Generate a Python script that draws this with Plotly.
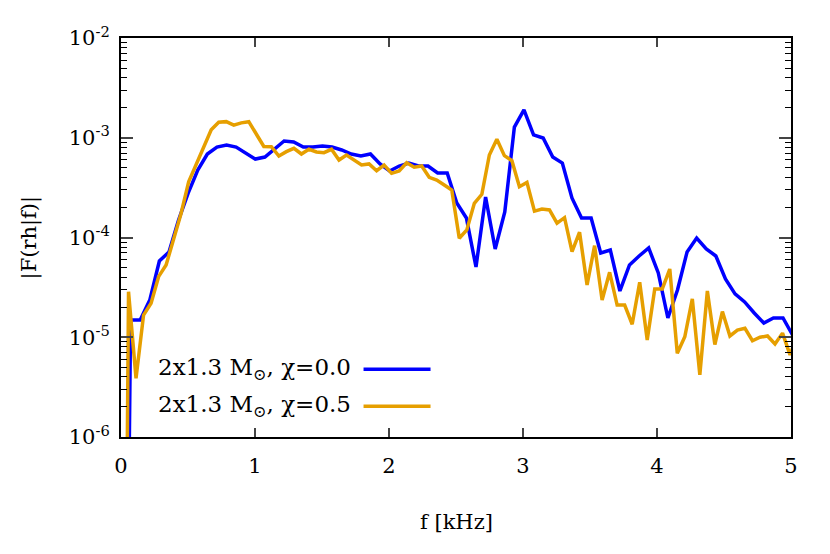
import numpy as np
import plotly.graph_objects as go

# frequency spacing of each series (kHz)
DF_CHI00 = 0.0716
DF_CHI05 = 0.0561

# |F(rh|f)| values, chi = 0.0 (blue)
amp_chi00 = [1e-14, 1.49e-5, 1.49e-5, 2.36e-5, 5.81e-5, 7.16e-5, 1.50e-4, 2.79e-4, 4.75e-4, 6.87e-4,
             8.07e-4, 8.46e-4, 8.07e-4, 7.03e-4, 6.12e-4, 6.41e-4, 7.71e-4, 9.27e-4, 9.06e-4, 8.07e-4,
             8.07e-4, 8.26e-4, 8.07e-4, 7.54e-4, 6.87e-4, 6.56e-4, 6.87e-4, 5.46e-4, 4.64e-4, 5.21e-4,
             5.58e-4, 5.21e-4, 5.21e-4, 4.43e-4, 4.43e-4, 2.22e-4, 1.57e-4, 5.06e-5, 2.55e-4, 7.67e-5,
             1.80e-4, 1.28e-3, 1.90e-3, 1.07e-3, 9.94e-4, 6.41e-4, 5.58e-4, 2.49e-4, 1.57e-4, 1.57e-4,
             7.00e-5, 7.50e-5, 2.91e-5, 5.30e-5, 6.53e-5, 7.85e-5, 4.41e-5, 1.56e-5, 2.98e-5, 7.16e-5,
             9.89e-5, 7.67e-5, 6.53e-5, 3.84e-5, 2.72e-5, 2.26e-5, 1.75e-5, 1.39e-5, 1.56e-5, 1.56e-5,
             1.05e-5]

# |F(rh|f)| values, chi = 0.5 (orange)
amp_chi05 = [1e-14, 2.86e-5, 3.88e-6, 1.67e-5, 2.19e-5, 4.05e-5, 5.30e-5, 9.82e-5, 1.75e-4, 3.62e-4,
             5.33e-4, 8.13e-4, 1.20e-3, 1.43e-3, 1.45e-3, 1.34e-3, 1.41e-3, 1.45e-3, 1.09e-3, 8.17e-4,
             8.13e-4, 6.56e-4, 7.25e-4, 7.84e-4, 6.87e-4, 7.66e-4, 7.20e-4, 7.08e-4, 7.66e-4, 5.98e-4,
             6.71e-4, 5.98e-4, 5.33e-4, 5.46e-4, 4.67e-4, 5.33e-4, 4.40e-4, 4.64e-4, 5.62e-4, 5.06e-4,
             5.21e-4, 4.01e-4, 3.77e-4, 3.36e-4, 2.99e-4, 9.82e-5, 1.19e-4, 2.20e-4, 2.71e-4, 6.71e-4,
             9.64e-4, 6.61e-4, 5.89e-4, 3.23e-4, 3.57e-4, 1.84e-4, 1.93e-4, 1.89e-4, 1.39e-4, 1.58e-4,
             7.21e-5, 1.13e-4, 3.34e-5, 8.28e-5, 2.36e-5, 4.48e-5, 2.10e-5, 2.10e-5, 1.35e-5, 3.56e-5,
             9.38e-6, 3.05e-5, 3.05e-5, 4.83e-5, 6.90e-6, 1.01e-5, 2.42e-5, 4.19e-6, 2.91e-5, 8.46e-6,
             1.81e-5, 1.03e-5, 1.18e-5, 1.23e-5, 9.23e-6, 1.00e-5, 1.03e-5, 8.55e-6, 1.10e-5, 6.64e-6,
             1.05e-5]

f_chi00 = np.arange(len(amp_chi00)) * DF_CHI00
f_chi05 = np.arange(len(amp_chi05)) * DF_CHI05

labels = ["2x1.3 M<sub>\u2299</sub>, \u03c7=0.0", "2x1.3 M<sub>\u2299</sub>, \u03c7=0.5"]
colors = ["#0000FF", "#E69F00"]

x_ticks = [0, 1, 2, 3, 4, 5]
y_tickvals = [1e-6, 1e-5, 1e-4, 1e-3, 1e-2]
y_ticktext = ["10<sup>-6</sup>", "10<sup>-5</sup>", "10<sup>-4</sup>", "10<sup>-3</sup>", "10<sup>-2</sup>"]
y_minor = [k * 10.0 ** e for e in range(-6, -2) for k in range(2, 10)]

FONT = "DejaVu Serif, Liberation Serif, serif"
FS = 21

fig = go.Figure()
fig.add_trace(go.Scatter(x=f_chi00, y=amp_chi00, mode="lines", name=labels[0],
                         line=dict(color=colors[0], width=3.5), showlegend=False))
fig.add_trace(go.Scatter(x=f_chi05, y=amp_chi05, mode="lines", name=labels[1],
                         line=dict(color=colors[1], width=3.5), showlegend=False))

# legend drawn as text + line sample (sample on the right, as in the original)
leg_rows = [0.170, 0.077]
for lab, col, yy in zip(labels, colors, leg_rows):
    fig.add_annotation(xref="paper", yref="paper", x=0.346, y=yy, text=lab,
                       showarrow=False, xanchor="right", yanchor="middle",
                       font=dict(family=FONT, size=23, color="black"))
    fig.add_shape(type="line", xref="paper", yref="paper", x0=0.362, x1=0.462,
                  y0=yy, y1=yy, line=dict(color=col, width=3.5))

fig.add_annotation(xref="paper", yref="paper", x=0.5, y=-0.213, text="f [kHz]",
                   showarrow=False, xanchor="center", yanchor="middle",
                   font=dict(family=FONT, size=FS, color="black"))
fig.add_annotation(xref="paper", yref="paper", x=-0.136, y=0.5, text="|F(rh|f)|",
                   showarrow=False, xanchor="center", yanchor="middle", textangle=-90,
                   font=dict(family=FONT, size=FS, color="black"))

fig.update_xaxes(range=[0, 5], tickvals=x_ticks, ticks="inside", ticklen=9, tickwidth=1.5,
                 showline=True, linecolor="black", linewidth=2, mirror="ticks",
                 showgrid=False, zeroline=False, ticklabelstandoff=9,
                 tickfont=dict(family=FONT, size=FS, color="black"))
fig.update_yaxes(type="log", range=[-6, -2], tickvals=y_tickvals, ticktext=y_ticktext,
                 ticks="inside", ticklen=12, tickwidth=1.5,
                 minor=dict(tickmode="array", tickvals=y_minor, ticks="inside", ticklen=6,
                            tickwidth=1.2, showgrid=False, tickcolor="black"),
                 showline=True, linecolor="black", linewidth=2, mirror="ticks",
                 showgrid=False, zeroline=False, ticklabelstandoff=5,
                 tickfont=dict(family=FONT, size=FS, color="black"))

# page body has an 8px margin: shift plot area so it lands at x 121-791, y 38-437
fig.update_layout(width=830, height=554, margin=dict(l=113, r=47, t=30, b=125),
                  plot_bgcolor="white", paper_bgcolor="white", showlegend=False)

fig.write_html("out.html")
